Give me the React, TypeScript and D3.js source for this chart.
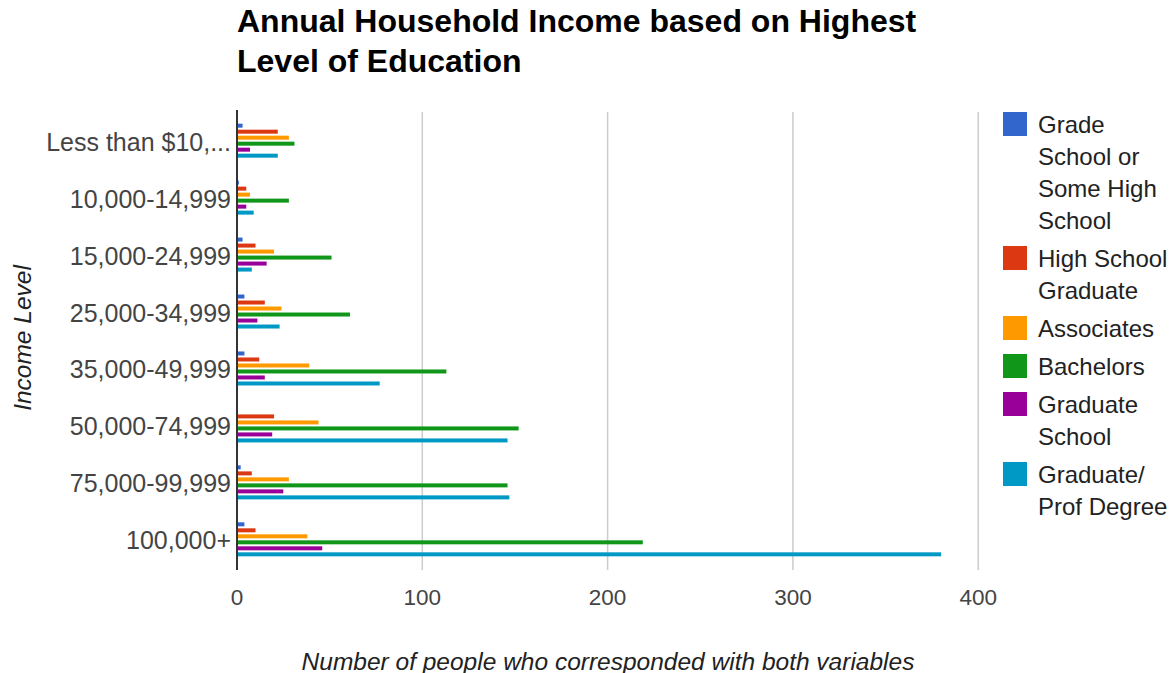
import React from "react";
import * as d3 from "d3";

const categories = [
  "Less than $10,...",
  "10,000-14,999",
  "15,000-24,999",
  "25,000-34,999",
  "35,000-49,999",
  "50,000-74,999",
  "75,000-99,999",
  "100,000+",
];
const seriesNames = [
  "Grade School or Some High School",
  "High School Graduate",
  "Associates",
  "Bachelors",
  "Graduate School",
  "Graduate/ Prof Degree",
];
const legendLines = [
  ["Grade", "School or", "Some High", "School"],
  ["High School", "Graduate"],
  ["Associates"],
  ["Bachelors"],
  ["Graduate", "School"],
  ["Graduate/", "Prof Degree"],
];
const gradeSchool = [3, 1, 3, 4, 4, 0, 2, 4];
const highSchool = [22, 5, 10, 15, 12, 20, 8, 10];
const associates = [28, 7, 20, 24, 39, 44, 28, 38];
const bachelors = [31, 28, 51, 61, 113, 152, 146, 219];
const graduateSchool = [7, 5, 16, 11, 15, 19, 25, 46];
const gradProf = [22, 9, 8, 23, 77, 146, 147, 380];
const seriesValues = [gradeSchool, highSchool, associates, bachelors, graduateSchool, gradProf];
const colors = ["#3366cc", "#dc3912", "#ff9900", "#109618", "#990099", "#0099c6"];
const xTicks = [0, 100, 200, 300, 400];

const FONT = "'Liberation Sans', Arial, sans-serif";

export default function App() {
  const x = d3.scaleLinear().domain([0, 400]).range([237, 978.2]);
  const y = d3.scaleBand<string>().domain(categories).range([112.2, 567.8]).padding(0);
  const inner = d3
    .scaleBand<number>()
    .domain(d3.range(seriesNames.length))
    .range([-18, 18])
    .paddingInner(1 / 3)
    .paddingOuter(1 / 6);

  let legendY = 124;
  const legendItems = legendLines.map((lines, i) => {
    const top = legendY;
    legendY += lines.length * 32 + 6;
    return { lines, top, color: colors[i] };
  });

  return (
    <svg
      width={1175}
      height={673}
      style={{ position: "absolute", left: 0, top: 0, background: "#fff" }}
      fontFamily={FONT}
    >
      <text x={237} y={32} fontSize={32} fontWeight="bold" fill="#000">
        Annual Household Income based on Highest
      </text>
      <text x={237} y={72} fontSize={32} fontWeight="bold" fill="#000">
        Level of Education
      </text>

      {xTicks.slice(1).map((t) => (
        <line key={t} x1={x(t)} x2={x(t)} y1={112} y2={570} stroke="#cccccc" strokeWidth={1.5} />
      ))}

      {seriesValues.map((vals, si) =>
        categories.map((c, ci) => {
          const cy = (y(c) as number) + y.bandwidth() / 2;
          const w = x(vals[ci]) - x(0);
          if (w <= 0) return null;
          return (
            <rect
              key={`${si}-${ci}`}
              x={x(0)}
              y={cy + (inner(si) as number)}
              width={w}
              height={inner.bandwidth()}
              fill={colors[si]}
            />
          );
        })
      )}

      <line x1={237} x2={237} y1={110} y2={570} stroke="#333" strokeWidth={2} />

      {categories.map((c) => (
        <text
          key={c}
          x={231}
          y={(y(c) as number) + y.bandwidth() / 2 + 1}
          textAnchor="end"
          dominantBaseline="central"
          fontSize={25}
          fill="#444"
        >
          {c}
        </text>
      ))}

      {xTicks.map((t) => (
        <text key={t} x={x(t)} y={597} textAnchor="middle" dominantBaseline="central" fontSize={22.5} fill="#444">
          {t}
        </text>
      ))}

      <text x={608} y={661} textAnchor="middle" dominantBaseline="central" fontSize={24.5} fontStyle="italic" fill="#222">
        Number of people who corresponded with both variables
      </text>
      <text
        transform="translate(22,338) rotate(-90)"
        textAnchor="middle"
        dominantBaseline="central"
        fontSize={24.5}
        fontStyle="italic"
        fill="#222"
      >
        Income Level
      </text>

      {legendItems.map((it, i) => (
        <g key={i}>
          <rect x={1003} y={it.top - 12} width={24} height={24} fill={it.color} />
          {it.lines.map((ln, li) => (
            <text key={li} x={1038} y={it.top + li * 32} dominantBaseline="central" fontSize={24} fill="#222">
              {ln}
            </text>
          ))}
        </g>
      ))}
    </svg>
  );
}
